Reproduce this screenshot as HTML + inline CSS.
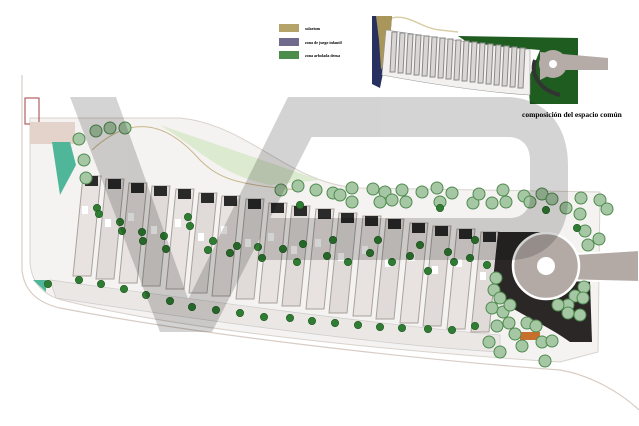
<!DOCTYPE html>
<html><head><meta charset="utf-8"><style>
html,body{margin:0;padding:0;background:#fff;width:639px;height:426px;overflow:hidden}
svg{display:block}
text{font-family:"Liberation Serif",serif}
</style></head><body>
<svg width="639" height="426" viewBox="0 0 639 426" xmlns="http://www.w3.org/2000/svg">
<defs>
<g id="t"><circle r="6" fill="#a6c7a4" stroke="#4f8a4f" stroke-width="1"/></g>
<g id="d"><circle r="3.7" fill="#2f7d32" stroke="#1f5a22" stroke-width=".6"/></g>
</defs>
<!-- legend -->
<rect x="279" y="24" width="20" height="8" fill="#b5a46a"/>
<rect x="279" y="38" width="20" height="8" fill="#706b8c"/>
<rect x="279" y="51" width="20" height="8" fill="#4d8d4b"/>
<text x="305" y="30" font-size="4" font-weight="bold">solarium</text>
<text x="305" y="44" font-size="4" font-weight="bold">zona de juego infantil</text>
<text x="305" y="57" font-size="4" font-weight="bold">zona arbolada densa</text>
<!-- inset -->
<path d="M372,16 L392,16 L390,40 L386,60 L382,78 L380,88 L372,84 Z" fill="#27305e"/>
<path d="M376,16 L392,16 L390,40 L385,62 L381,70 L379,40 Z" fill="#a8965a"/>
<path d="M392,18 C410,14 420,28 440,30 L458,32" fill="none" stroke="#d8cfa8" stroke-width="1.5"/>
<path d="M458,36 L578,38 L578,104 L530,104 L528,80 L540,50 L470,44 Z" fill="#1f5c1f"/>
<path d="M386,30 C430,36 480,45 530,50 L530,95 C480,92 420,82 382,75 Z" fill="#f3f1f0" stroke="#999" stroke-width=".6"/>
<g stroke="#888" stroke-width="1" fill="#d9d6d4">
<path d="M392,32 h5 l-2,40 h-5 z"/><path d="M400,33 h5 l-2,40 h-5 z"/><path d="M408,34 h5 l-2,40 h-5 z"/><path d="M416,35 h5 l-2,40 h-5 z"/><path d="M424,36 h5 l-2,40 h-5 z"/><path d="M432,37 h5 l-2,40 h-5 z"/><path d="M440,38 h5 l-2,40 h-5 z"/><path d="M448,39 h5 l-2,40 h-5 z"/><path d="M456,40 h5 l-2,40 h-5 z"/><path d="M464,41 h5 l-2,40 h-5 z"/><path d="M472,42 h5 l-2,40 h-5 z"/><path d="M480,43 h5 l-2,40 h-5 z"/><path d="M488,44 h5 l-2,40 h-5 z"/><path d="M496,45 h5 l-2,40 h-5 z"/><path d="M504,46 h5 l-2,40 h-5 z"/><path d="M512,47 h5 l-2,40 h-5 z"/><path d="M520,48 h5 l-2,40 h-5 z"/>
</g>
<path d="M540,52 L608,58 L608,70 L560,70 L540,80 Z" fill="#b5aca8"/>
<circle cx="553" cy="64" r="14" fill="#b5aca8"/><circle cx="553" cy="64" r="4" fill="#fff"/>
<path d="M535,60 C530,75 540,90 560,95" fill="none" stroke="#333" stroke-width="4"/>
<text x="522" y="117" font-size="7.5" font-weight="bold">composición del espacio común</text>
<!-- site base -->
<path d="M22,75 L22,270 Q25,300 60,308 C200,335 420,360 560,370 C590,375 620,392 639,410" fill="none" stroke="#d8ccc4" stroke-width="1.2"/>
<path d="M30,118 L180,118 C250,125 290,185 360,188 L600,192 L598,352 L560,362 C450,355 200,335 62,300 Q32,292 30,262 Z" fill="#f5f3f1" stroke="#d8d2cc" stroke-width="1"/>
<path d="M92,150 C130,115 165,120 200,160 C220,180 240,185 300,190" fill="none" stroke="#c9b88c" stroke-width="1"/>
<path d="M160,125 C200,150 220,175 270,185 L320,180 Z" fill="#d6e8c8" opacity=".8"/>
<rect x="25" y="98" width="14" height="26" fill="none" stroke="#a04040" stroke-width="1"/>
<rect x="30" y="122" width="45" height="22" fill="#e3d3ca"/>
<path d="M52,142 L70,142 L76,165 L60,195 Z" fill="#4fb69a"/>
<path d="M33,280 L46,280 L46,292 Z" fill="#4fb69a"/>
<path d="M50,280 C200,300 380,325 500,335 L500,352 C380,345 200,320 56,298 Z" fill="#ebe7e4" stroke="#ccc" stroke-width=".7"/>
<!-- strips -->
<g>
<g transform="translate(85,176)"><path d="M-2,0 h18 l-10,100 h-18 z" fill="#e8e3e0" stroke="#a9a19c"/><rect x="0" y="0" width="13" height="10" fill="#2a2a2a"/><rect x="-3" y="30" width="6" height="8" fill="#fff"/></g>
<g transform="translate(108,179)"><path d="M-2,0 h18 l-10,100 h-18 z" fill="#e0dbd8" stroke="#a9a19c"/><rect x="0" y="0" width="13" height="10" fill="#2a2a2a"/><rect x="-3" y="40" width="6" height="8" fill="#fff"/></g>
<g transform="translate(131,183)"><path d="M-2,0 h18 l-10,100 h-18 z" fill="#e8e3e0" stroke="#a9a19c"/><rect x="0" y="0" width="13" height="10" fill="#2a2a2a"/><rect x="-3" y="30" width="6" height="8" fill="#fff"/></g>
<g transform="translate(154,186)"><path d="M-2,0 h18 l-10,100 h-18 z" fill="#e0dbd8" stroke="#a9a19c"/><rect x="0" y="0" width="13" height="10" fill="#2a2a2a"/><rect x="-3" y="40" width="6" height="8" fill="#fff"/></g>
<g transform="translate(178,189)"><path d="M-2,0 h18 l-10,100 h-18 z" fill="#e8e3e0" stroke="#a9a19c"/><rect x="0" y="0" width="13" height="10" fill="#2a2a2a"/><rect x="-3" y="30" width="6" height="8" fill="#fff"/></g>
<g transform="translate(201,193)"><path d="M-2,0 h18 l-10,100 h-18 z" fill="#e0dbd8" stroke="#a9a19c"/><rect x="0" y="0" width="13" height="10" fill="#2a2a2a"/><rect x="-3" y="40" width="6" height="8" fill="#fff"/></g>
<g transform="translate(224,196)"><path d="M-2,0 h18 l-10,100 h-18 z" fill="#e8e3e0" stroke="#a9a19c"/><rect x="0" y="0" width="13" height="10" fill="#2a2a2a"/><rect x="-3" y="30" width="6" height="8" fill="#fff"/></g>
<g transform="translate(248,199)"><path d="M-2,0 h18 l-10,100 h-18 z" fill="#e0dbd8" stroke="#a9a19c"/><rect x="0" y="0" width="13" height="10" fill="#2a2a2a"/><rect x="-3" y="40" width="6" height="8" fill="#fff"/></g>
<g transform="translate(271,203)"><path d="M-2,0 h18 l-10,100 h-18 z" fill="#e8e3e0" stroke="#a9a19c"/><rect x="0" y="0" width="13" height="10" fill="#2a2a2a"/><rect x="-3" y="30" width="6" height="8" fill="#fff"/></g>
<g transform="translate(294,206)"><path d="M-2,0 h18 l-10,100 h-18 z" fill="#e0dbd8" stroke="#a9a19c"/><rect x="0" y="0" width="13" height="10" fill="#2a2a2a"/><rect x="-3" y="40" width="6" height="8" fill="#fff"/></g>
<g transform="translate(318,209)"><path d="M-2,0 h18 l-10,100 h-18 z" fill="#e8e3e0" stroke="#a9a19c"/><rect x="0" y="0" width="13" height="10" fill="#2a2a2a"/><rect x="-3" y="30" width="6" height="8" fill="#fff"/></g>
<g transform="translate(341,213)"><path d="M-2,0 h18 l-10,100 h-18 z" fill="#e0dbd8" stroke="#a9a19c"/><rect x="0" y="0" width="13" height="10" fill="#2a2a2a"/><rect x="-3" y="40" width="6" height="8" fill="#fff"/></g>
<g transform="translate(365,216)"><path d="M-2,0 h18 l-10,100 h-18 z" fill="#e8e3e0" stroke="#a9a19c"/><rect x="0" y="0" width="13" height="10" fill="#2a2a2a"/><rect x="-3" y="30" width="6" height="8" fill="#fff"/></g>
<g transform="translate(388,219)"><path d="M-2,0 h18 l-10,100 h-18 z" fill="#e0dbd8" stroke="#a9a19c"/><rect x="0" y="0" width="13" height="10" fill="#2a2a2a"/><rect x="-3" y="40" width="6" height="8" fill="#fff"/></g>
<g transform="translate(412,223)"><path d="M-2,0 h18 l-10,100 h-18 z" fill="#e8e3e0" stroke="#a9a19c"/><rect x="0" y="0" width="13" height="10" fill="#2a2a2a"/><rect x="-3" y="30" width="6" height="8" fill="#fff"/></g>
<g transform="translate(435,226)"><path d="M-2,0 h18 l-10,100 h-18 z" fill="#e0dbd8" stroke="#a9a19c"/><rect x="0" y="0" width="13" height="10" fill="#2a2a2a"/><rect x="-3" y="40" width="6" height="8" fill="#fff"/></g>
<g transform="translate(459,229)"><path d="M-2,0 h18 l-10,100 h-18 z" fill="#e8e3e0" stroke="#a9a19c"/><rect x="0" y="0" width="13" height="10" fill="#2a2a2a"/><rect x="-3" y="30" width="6" height="8" fill="#fff"/></g>
<g transform="translate(483,232)"><path d="M-2,0 h18 l-10,100 h-18 z" fill="#e0dbd8" stroke="#a9a19c"/><rect x="0" y="0" width="13" height="10" fill="#2a2a2a"/><rect x="-3" y="40" width="6" height="8" fill="#fff"/></g>
</g>
<!-- roundabout -->
<path d="M498,232 L540,232 L590,282 L592,342 L570,342 C540,320 505,310 492,290 Z" fill="#2b2727"/>
<path d="M560,255 L639,250 L639,282 L560,280 Z" fill="#b3aaa5" stroke="#fff" stroke-width="2"/>
<circle cx="546" cy="266" r="33" fill="#b3aaa5" stroke="#fff" stroke-width="2.5"/>
<circle cx="546" cy="266" r="9" fill="#fff"/>
<rect x="520" y="332" width="20" height="8" fill="#c7702e"/>
<!-- trees -->
<g>
<use href="#t" x="79" y="139"/><use href="#t" x="84" y="160"/><use href="#t" x="86" y="178"/><use href="#t" x="96" y="131"/><use href="#t" x="110" y="128"/><use href="#t" x="125" y="128"/>
<use href="#t" x="281" y="190"/><use href="#t" x="298" y="186"/><use href="#t" x="316" y="190"/><use href="#t" x="333" y="193"/><use href="#t" x="340" y="195"/><use href="#t" x="352" y="188"/><use href="#t" x="373" y="189"/><use href="#t" x="385" y="192"/><use href="#t" x="402" y="190"/><use href="#t" x="422" y="192"/><use href="#t" x="437" y="188"/><use href="#t" x="352" y="202"/><use href="#t" x="380" y="202"/><use href="#t" x="392" y="200"/><use href="#t" x="406" y="202"/><use href="#t" x="440" y="202"/><use href="#t" x="452" y="193"/><use href="#t" x="473" y="203"/><use href="#t" x="479" y="194"/><use href="#t" x="492" y="203"/><use href="#t" x="503" y="190"/><use href="#t" x="506" y="202"/><use href="#t" x="524" y="196"/><use href="#t" x="530" y="202"/><use href="#t" x="542" y="194"/><use href="#t" x="552" y="199"/>
<use href="#t" x="566" y="208"/><use href="#t" x="581" y="198"/><use href="#t" x="600" y="200"/><use href="#t" x="580" y="214"/><use href="#t" x="607" y="209"/><use href="#t" x="585" y="231"/><use href="#t" x="588" y="245"/><use href="#t" x="599" y="239"/>
<use href="#t" x="496" y="278"/><use href="#t" x="494" y="290"/><use href="#t" x="500" y="298"/><use href="#t" x="492" y="308"/><use href="#t" x="503" y="312"/><use href="#t" x="510" y="305"/><use href="#t" x="509" y="323"/><use href="#t" x="497" y="326"/><use href="#t" x="515" y="334"/><use href="#t" x="527" y="323"/><use href="#t" x="536" y="326"/><use href="#t" x="542" y="342"/><use href="#t" x="489" y="342"/><use href="#t" x="522" y="346"/><use href="#t" x="545" y="361"/><use href="#t" x="552" y="341"/><use href="#t" x="584" y="287"/><use href="#t" x="575" y="296"/><use href="#t" x="568" y="305"/><use href="#t" x="583" y="298"/><use href="#t" x="558" y="305"/><use href="#t" x="568" y="313"/><use href="#t" x="580" y="315"/><use href="#t" x="500" y="352"/>
<use href="#d" x="97" y="208"/><use href="#d" x="99" y="214"/><use href="#d" x="120" y="222"/><use href="#d" x="122" y="231"/><use href="#d" x="142" y="232"/><use href="#d" x="143" y="241"/><use href="#d" x="164" y="236"/><use href="#d" x="166" y="249"/><use href="#d" x="188" y="217"/><use href="#d" x="190" y="226"/><use href="#d" x="208" y="250"/><use href="#d" x="213" y="241"/><use href="#d" x="230" y="253"/><use href="#d" x="237" y="246"/><use href="#d" x="258" y="247"/><use href="#d" x="262" y="258"/><use href="#d" x="283" y="249"/><use href="#d" x="297" y="262"/><use href="#d" x="303" y="244"/><use href="#d" x="327" y="256"/><use href="#d" x="333" y="240"/><use href="#d" x="348" y="262"/><use href="#d" x="370" y="253"/><use href="#d" x="378" y="240"/><use href="#d" x="392" y="262"/><use href="#d" x="410" y="256"/><use href="#d" x="420" y="245"/><use href="#d" x="428" y="271"/><use href="#d" x="448" y="252"/><use href="#d" x="454" y="262"/><use href="#d" x="470" y="258"/><use href="#d" x="475" y="240"/><use href="#d" x="487" y="265"/><use href="#d" x="300" y="205"/><use href="#d" x="440" y="208"/><use href="#d" x="577" y="228"/><use href="#d" x="546" y="210"/>
<use href="#d" x="79" y="280"/><use href="#d" x="101" y="284"/><use href="#d" x="124" y="289"/><use href="#d" x="146" y="295"/><use href="#d" x="170" y="301"/><use href="#d" x="192" y="307"/><use href="#d" x="216" y="310"/><use href="#d" x="240" y="313"/><use href="#d" x="264" y="317"/><use href="#d" x="290" y="318"/><use href="#d" x="312" y="321"/><use href="#d" x="335" y="323"/><use href="#d" x="358" y="325"/><use href="#d" x="380" y="327"/><use href="#d" x="402" y="328"/><use href="#d" x="428" y="329"/><use href="#d" x="452" y="330"/><use href="#d" x="475" y="326"/><use href="#d" x="48" y="284"/>
</g>
<!-- watermark -->
<g fill="#000" opacity=".17">
<path d="M70,97 L116,97 L200,332 L160,332 Z"/>
<path d="M288,97 L332,97 L212,332 L172,332 Z"/>
<path d="M300,97 L505,97 C545,97 568,125 568,165 L568,200 C568,235 545,260 510,260 L258,260 L262,218 L510,218 C522,218 530,210 530,198 L530,160 C530,146 522,137 508,137 L300,137 Z"/>
</g>
</svg>
</body></html>
